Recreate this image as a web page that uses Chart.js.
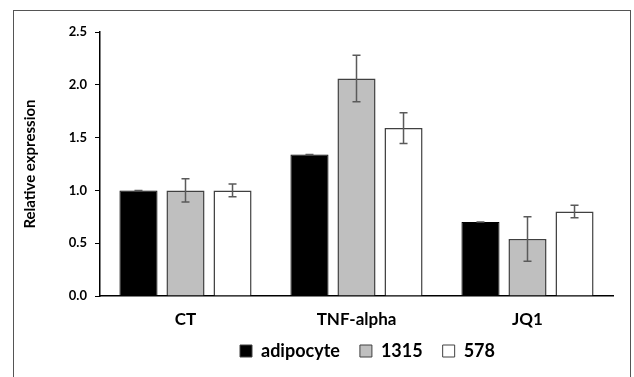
<!DOCTYPE html>
<html>
<head>
<meta charset="utf-8">
<script src="https://cdn.jsdelivr.net/npm/chart.js@4"></script>
<style>
  html, body { margin: 0; padding: 0; background: #fff; }
  #wrap { position: relative; width: 634px; height: 377px; overflow: hidden; }
  #frame { position: absolute; left: 13px; top: 10px; width: 618px; height: 400px; border: 1.5px solid #555; box-sizing: border-box; }
  canvas { position: absolute; left: 0; top: 0; }
</style>
</head>
<body>
<div id="wrap">
  <div id="frame"></div>
  <canvas id="c" width="634" height="377"></canvas>
</div>
<script>
const categories = ['CT', 'TNF-alpha', 'JQ1'];
const seriesNames = ['adipocyte', '1315', '578'];
const adipocyte = [1.00, 1.34, 0.70];
const adipocyteErr = [0, 0, 0];
const s1315 = [1.00, 2.06, 0.54];
const s1315Err = [0.11, 0.22, 0.21];
const s578 = [1.00, 1.59, 0.80];
const s578Err = [0.06, 0.145, 0.06];
const yTicks = [0, 0.5, 1.0, 1.5, 2.0, 2.5];

const FONT = 'Lato, "Open Sans", sans-serif';

const errorBars = {
  id: 'errorBars',
  afterDatasetsDraw(chart) {
    const ctx = chart.ctx;
    const y = chart.scales.y;
    chart.data.datasets.forEach((ds, i) => {
      const meta = chart.getDatasetMeta(i);
      meta.data.forEach((bar, j) => {
        const v = ds.data[j], e = ds.errors[j];
        const top = y.getPixelForValue(v + e);
        const bot = y.getPixelForValue(v - e);
        const cap = 4;
        ctx.save();
        ctx.strokeStyle = '#5a5a5a';
        ctx.lineWidth = 1.5;
        ctx.beginPath();
        ctx.moveTo(bar.x, top); ctx.lineTo(bar.x, bot);
        ctx.moveTo(bar.x - cap, top); ctx.lineTo(bar.x + cap, top);
        ctx.moveTo(bar.x - cap, bot); ctx.lineTo(bar.x + cap, bot);
        ctx.stroke();
        ctx.restore();
      });
    });
  }
};

const legendTweak = {
  id: 'legendTweak',
  beforeLayout(chart) {
    const lg = chart.legend;
    if (lg && !lg._patched) {
      const f = lg.fit;
      lg.fit = function () { f.call(this); this.height = 40; };
      const d = lg.draw;
      lg.draw = function () {
        const ctx = this.ctx;
        ctx.save();
        ctx.translate(11, -8);
        d.apply(this, arguments);
        ctx.restore();
      };
      lg._patched = true;
    }
  }
};

new Chart(document.getElementById('c'), {
  type: 'bar',
  data: {
    labels: categories,
    datasets: [
      { label: seriesNames[0], data: adipocyte, errors: adipocyteErr, backgroundColor: '#000000', borderColor: '#000000', borderWidth: 1 },
      { label: seriesNames[1], data: s1315, errors: s1315Err, backgroundColor: '#bfbfbf', borderColor: '#404040', borderWidth: 1.5 },
      { label: seriesNames[2], data: s578, errors: s578Err, backgroundColor: '#ffffff', borderColor: '#404040', borderWidth: 1.5 }
    ]
  },
  options: {
    responsive: false,
    animation: false,
    devicePixelRatio: 1,
    layout: { padding: { left: 18, right: 21, top: 32, bottom: 7 } },
    datasets: { bar: { categoryPercentage: 0.825, barPercentage: 0.81 } },
    plugins: {
      legend: {
        position: 'bottom',
        fullSize: false,
        labels: {
          font: { family: FONT, size: 18, weight: 'bold' },
          color: '#000',
          boxWidth: 12, boxHeight: 12,
          padding: 20,
          generateLabels(chart) {
            return chart.data.datasets.map((ds, i) => ({
              text: ds.label, fillStyle: ds.backgroundColor, strokeStyle: '#404040',
              lineWidth: 1, datasetIndex: i, hidden: false, fontColor: '#000'
            }));
          }
        }
      },
      tooltip: { enabled: false }
    },
    scales: {
      x: {
        grid: { display: false },
        border: { display: true, color: '#000', width: 1.5 },
        ticks: { font: { family: FONT, size: 17, weight: 'bold' }, color: '#000', padding: 5 },
        afterFit(scale) { scale.height = 34; }
      },
      y: {
        min: 0, max: 2.5,
        afterBuildTicks(scale) { scale.ticks = yTicks.map(v => ({ value: v })); },
        afterFit(scale) { scale.width = 82; },
        grid: { display: true, drawOnChartArea: false, tickLength: 5, color: '#000', lineWidth: 1 },
        border: { display: true, color: '#000', width: 1.5 },
        ticks: { font: { family: FONT, size: 13, weight: 'bold' }, color: '#000', padding: 8,
                 callback: (v) => Number(v).toFixed(1) },
        title: { display: true, text: 'Relative expression', font: { family: FONT, size: 15, weight: 'bold' }, color: '#000', padding: { top: 3, bottom: 0 } }
      }
    }
  },
  plugins: [errorBars, legendTweak]
});
</script>
</body>
</html>
